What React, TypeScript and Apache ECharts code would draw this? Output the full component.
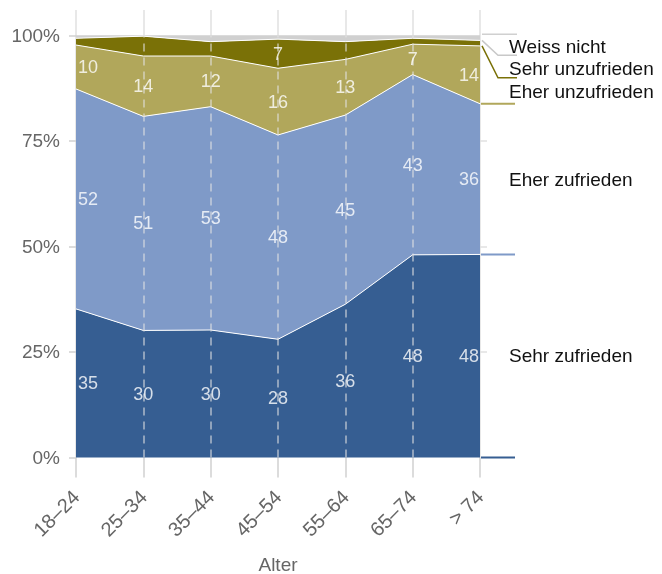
import React, { useEffect, useRef } from 'react';
import * as echarts from 'echarts';

const categories = ['18–24', '25–34', '35–44', '45–54', '55–64', '65–74', '> 74'];
const seriesNames = ['Sehr zufrieden', 'Eher zufrieden', 'Eher unzufrieden', 'Sehr unzufrieden', 'Weiss nicht'];
const sehrZufrieden = [35.2, 30.1, 30.2, 28.0, 36.3, 48.0, 48.1];
const eherZufrieden = [52.1, 50.7, 52.9, 48.4, 44.8, 42.7, 35.7];
const eherUnzufrieden = [10.4, 14.3, 12.0, 15.8, 13.2, 7.2, 13.7];
const sehrUnzufrieden = [1.6, 4.7, 3.4, 6.9, 4.2, 1.4, 1.3];
const weissNicht = [0.7, 0.2, 1.5, 0.9, 1.5, 0.7, 1.2];
const yTicks = [0, 25, 50, 75, 100];
const colors = ['#365E92', '#7F9AC8', '#B1A75B', '#7A7107', '#D0D0D0'];
const leaderColors = ['#365E92', '#7F9AC8', '#B1A75B', '#7A7107', '#C8C8C8'];
const labelThreshold = 5;

const font = "'Liberation Sans', Arial, Helvetica, sans-serif";

export default function App() {
  const ref = useRef<HTMLDivElement>(null);
  useEffect(() => {
    const chart = echarts.init(ref.current!, null, { renderer: 'svg' });
    const values = [sehrZufrieden, eherZufrieden, eherUnzufrieden, sehrUnzufrieden, weissNicht];
    const cumBelow = values.map((_, s) =>
      categories.map((_, i) => values.slice(0, s).reduce((a, arr) => a + arr[i], 0))
    );
    const last = categories.length - 1;

    const labelData: any[] = [];
    for (let s = 0; s < 4; s++) {
      categories.forEach((_, i) => {
        const v = values[s][i];
        if (v < labelThreshold) return;
        const item: any = { value: [i, cumBelow[s][i] + v / 2, v] };
        if (i === 0) item.label = { position: 'right', distance: 2 };
        else if (i === last) item.label = { position: 'left', distance: 1 };
        labelData.push(item);
      });
    }

    const markData = categories
      .map((_, i) => i)
      .filter((i) => i > 0 && i < last)
      .map((i) => [{ coord: [i, 0] }, { coord: [i, 100] }]);

    const series: any[] = values.map((arr, s) => ({
      name: seriesNames[s],
      type: 'line',
      stack: 'total',
      data: arr,
      symbol: 'none',
      lineStyle: { color: '#ffffff', width: s === 4 ? 0 : 1 },
      areaStyle: { color: colors[s], opacity: 1 },
      itemStyle: { color: colors[s] },
      silent: true,
      z: 2,
    }));
    series[4].markLine = {
      silent: true,
      symbol: 'none',
      z: 3,
      label: { show: false },
      lineStyle: { color: 'rgba(225,225,225,0.7)', type: [8, 6], width: 1.5 },
      data: markData,
    };
    series.push({
      type: 'scatter',
      data: labelData,
      symbolSize: 0,
      silent: true,
      z: 20,
      itemStyle: { color: 'transparent' },
      label: {
        show: true,
        position: 'inside',
        color: '#ffffff',
        textBorderWidth: 0,
        textBorderColor: 'transparent',
        fontSize: 18,
        fontFamily: font,
        formatter: (p: any) => String(Math.round(p.value[2])),
      },
    });

    chart.setOption({
      animation: false,
      grid: { left: 76, right: 182, top: 10, bottom: 116.5, containLabel: false, outerBoundsMode: 'none' },
      xAxis: {
        type: 'category',
        data: categories,
        boundaryGap: false,
        axisLine: { show: false },
        axisTick: { show: true, length: 20, lineStyle: { color: '#d0d0d0', width: 1.5 } },
        splitLine: { show: true, lineStyle: { color: '#e0e0e0', width: 1.5 } },
        axisLabel: { rotate: 45, margin: 36, fontSize: 20, color: '#666', fontFamily: font },
        name: 'Alter',
        nameLocation: 'middle',
        nameGap: 97,
        nameTextStyle: { fontSize: 19, color: '#666', fontFamily: font },
      },
      yAxis: [
        {
          type: 'value',
          min: 0,
          max: 106,
          interval: 25,
          axisLine: { show: false },
          splitLine: { show: false },
          axisTick: { show: true, length: 7, customValues: yTicks, lineStyle: { color: '#d0d0d0', width: 1.5 } },
          axisLabel: {
            customValues: yTicks,
            margin: 16,
            fontSize: 19,
            color: '#666',
            fontFamily: font,
            formatter: (v: number) => v + '%',
          },
        },
        {
          type: 'value',
          position: 'right',
          min: 0,
          max: 106,
          interval: 25,
          axisLine: { show: false },
          splitLine: { show: false },
          axisTick: { show: true, length: 7, customValues: [25, 50, 75], lineStyle: { color: '#e0e0e0', width: 1.5 } },
          axisLabel: { show: false },
        },
      ],
      series,
    });

    // Right-hand direct labels, placed from the data via the chart's own scales.
    const px = (i: number, v: number) => chart.convertToPixel({ xAxisIndex: 0, yAxisIndex: 0 }, [i, v]) as number[];
    const xLast = px(last, 0)[0];
    const top100 = px(last, 100)[1];
    const labelY: number[] = [];
    let prev = top100 + 11 - 22.5;
    for (let s = 4; s >= 0; s--) {
      const desired = px(last, cumBelow[s][last] + values[s][last] / 2)[1];
      const y = Math.max(desired, prev + 22.5);
      labelY[s] = y;
      prev = y;
    }
    const graphic: any[] = [];
    graphic.push({
      type: 'line',
      shape: { x1: xLast + 2, y1: top100 - 1, x2: xLast + 37, y2: top100 - 1 },
      style: { stroke: '#d0d0d0', lineWidth: 1.5 },
      silent: true,
    });
    for (let s = 0; s < 5; s++) {
      const bottomPx = px(last, cumBelow[s][last])[1];
      const under = labelY[s] + 9;
      if (bottomPx >= under - 4) {
        graphic.push({
          type: 'line',
          shape: { x1: xLast + 1, y1: bottomPx, x2: xLast + 35, y2: bottomPx },
          style: { stroke: leaderColors[s], lineWidth: 2 },
          silent: true,
        });
      } else {
        graphic.push({
          type: 'polyline',
          shape: { points: [[xLast + 2, bottomPx], [xLast + 18, under], [xLast + 37, under]] },
          style: { stroke: leaderColors[s], lineWidth: 1.5, fill: null },
          silent: true,
        });
      }
      graphic.push({
        type: 'text',
        x: xLast + 29,
        y: labelY[s],
        style: {
          text: seriesNames[s],
          fill: '#111',
          fontSize: 19,
          fontFamily: font,
          verticalAlign: 'middle',
          align: 'left',
        },
        silent: true,
        z: 20,
      });
    }
    chart.setOption({ graphic });

    return () => chart.dispose();
  }, []);
  return <div ref={ref} style={{ position: 'fixed', left: 0, top: 0, width: 662, height: 574 }} />;
}
